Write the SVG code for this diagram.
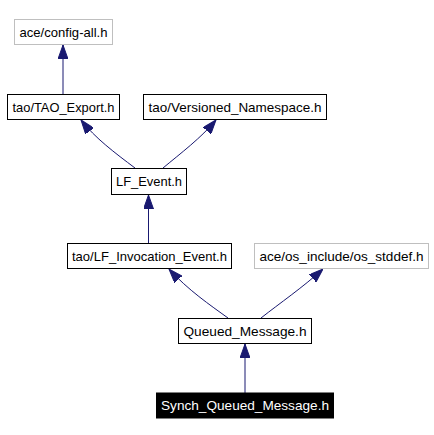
<svg xmlns="http://www.w3.org/2000/svg" width="434" height="435" viewBox="0 0 434 435">
<style>
.bg{fill:#ffffff}
.n rect{fill:#ffffff;stroke:#000000;stroke-width:1}
.n.ext rect{stroke:#bfbfbf}
.n.cur rect{fill:#000000;stroke:#000000}
.n text{font-family:"Liberation Sans",Arial,sans-serif;font-size:13px;fill:#000000;text-anchor:middle}
.n.cur text{fill:#ffffff}
.e path{fill:none;stroke:#191970;stroke-width:1;marker-end:url(#ah)}
</style>
<defs>
<marker id="ah" viewBox="0 0 14 10" markerWidth="14" markerHeight="10" refX="14" refY="5" orient="auto" markerUnits="userSpaceOnUse">
<path d="M0,0 L14,5 L0,10 z" fill="#191970" stroke="#191970" stroke-width="1"/>
</marker>
</defs>
<rect class="bg" x="0" y="0" width="434" height="435"/>
<g id="edges" class="e">
<path d="M63,94 L63,45"/>
<path d="M135,168 C115,153 95,138 81,120"/>
<path d="M163,168 C181,153 201,138 216,120"/>
<path d="M148.5,243 L148.5,195"/>
<path d="M228,318 C210,305 188,290 169,269"/>
<path d="M261,318 C280,303 302,288 323,269"/>
<path d="M245,393 L245,344"/>
</g>
<g id="node_config_all" class="n ext">
<rect x="14.5" y="19.5" width="98" height="25"/>
<text x="63.5" y="36.5" textLength="88" lengthAdjust="spacingAndGlyphs">ace/config-all.h</text>
</g>
<g id="node_tao_export" class="n">
<rect x="7.5" y="94.5" width="112" height="25"/>
<text x="63.5" y="111.5" textLength="102" lengthAdjust="spacingAndGlyphs">tao/TAO_Export.h</text>
</g>
<g id="node_versioned_namespace" class="n">
<rect x="143.5" y="94.5" width="183" height="25"/>
<text x="235" y="111.5" textLength="173" lengthAdjust="spacingAndGlyphs">tao/Versioned_Namespace.h</text>
</g>
<g id="node_lf_event" class="n">
<rect x="111.5" y="168.5" width="75" height="26"/>
<text x="149" y="186" textLength="66" lengthAdjust="spacingAndGlyphs">LF_Event.h</text>
</g>
<g id="node_lf_invocation_event" class="n">
<rect x="67.5" y="243.5" width="164" height="25"/>
<text x="149.5" y="260.5" textLength="155" lengthAdjust="spacingAndGlyphs">tao/LF_Invocation_Event.h</text>
</g>
<g id="node_os_stddef" class="n ext">
<rect x="254.5" y="243.5" width="174" height="25"/>
<text x="341.5" y="260.5" textLength="164" lengthAdjust="spacingAndGlyphs">ace/os_include/os_stddef.h</text>
</g>
<g id="node_queued_message" class="n">
<rect x="178.5" y="318.5" width="133" height="25"/>
<text x="245" y="335.5" textLength="123" lengthAdjust="spacingAndGlyphs">Queued_Message.h</text>
</g>
<g id="node_synch_queued_message" class="n cur">
<rect x="156.5" y="393" width="177" height="25"/>
<text x="245" y="410" textLength="168" lengthAdjust="spacingAndGlyphs">Synch_Queued_Message.h</text>
</g>
</svg>
